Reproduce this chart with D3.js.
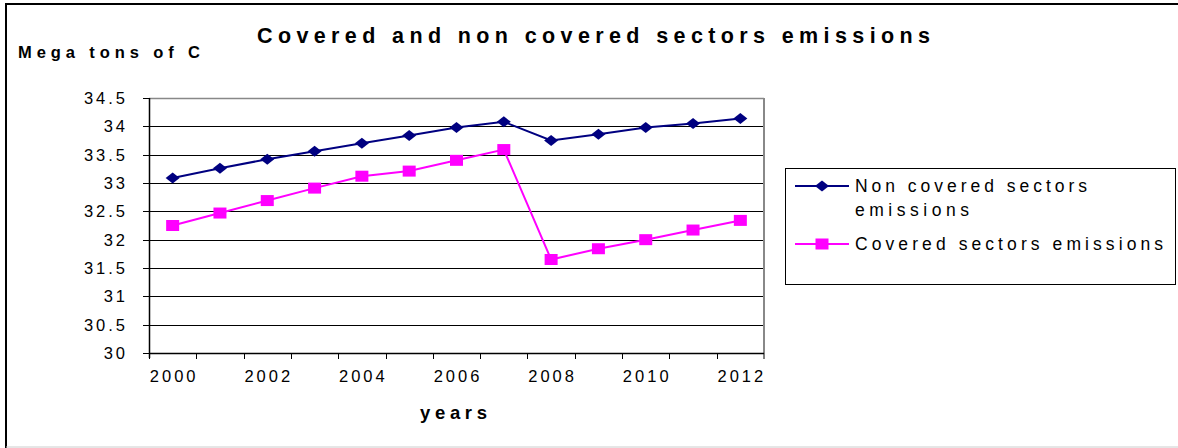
<!DOCTYPE html>
<html>
<head>
<meta charset="utf-8">
<script src="https://cdnjs.cloudflare.com/ajax/libs/d3/7.8.5/d3.min.js"></script>
<style>
  body { margin: 0; background: #fff; }
  svg { display: block; font-family: "Liberation Sans", Arial, sans-serif; }
</style>
</head>
<body>
<svg id="chart" width="1178" height="448"></svg>
<script>
var years = [2000, 2001, 2002, 2003, 2004, 2005, 2006, 2007, 2008, 2009, 2010, 2011, 2012];
var nonCovered = [33.09, 33.26, 33.42, 33.56, 33.70, 33.84, 33.98, 34.08, 33.75, 33.86, 33.98, 34.05, 34.14];
var covered = [32.25, 32.47, 32.69, 32.91, 33.12, 33.21, 33.40, 33.59, 31.65, 31.84, 32.00, 32.17, 32.34];
var yTicks = [30, 30.5, 31, 31.5, 32, 32.5, 33, 33.5, 34, 34.5];
var xLabels = [2000, 2002, 2004, 2006, 2008, 2010, 2012];

!(function (d3) {
  var svg = d3.select("#chart"),
    pl = 149, pr = 764, pt = 98, pb = 353;

  var x = d3.scaleBand().domain(years).range([pl, pr]);
  var y = d3.scaleLinear().domain([30, 34.5]).range([pb, pt]);

  // outer frame
  svg.append("line").attr("x1", 6).attr("x2", 6).attr("y1", 4).attr("y2", 448)
    .attr("stroke", "#000").attr("stroke-width", 2);
  svg.append("line").attr("x1", 5).attr("x2", 1178).attr("y1", 4).attr("y2", 4)
    .attr("stroke", "#000").attr("stroke-width", 2);
  svg.append("line").attr("x1", 6).attr("x2", 1178).attr("y1", 447).attr("y2", 447)
    .attr("stroke", "#ccc").attr("stroke-width", 1);

  // gridlines
  svg.append("g").selectAll("line")
    .data(yTicks.filter(function (d) { return d > 30 && d < 34.5; }))
    .enter().append("line")
    .attr("x1", pl).attr("x2", pr)
    .attr("y1", function (d) { return Math.round(y(d)) + 0.5; })
    .attr("y2", function (d) { return Math.round(y(d)) + 0.5; })
    .attr("stroke", "#000").attr("stroke-width", 1);

  // plot border top/right (grey)
  svg.append("line").attr("x1", pl).attr("x2", pr).attr("y1", pt + 0.5).attr("y2", pt + 0.5)
    .attr("stroke", "#888").attr("stroke-width", 1.5);
  svg.append("line").attr("x1", pr).attr("x2", pr).attr("y1", pt).attr("y2", pb)
    .attr("stroke", "#888").attr("stroke-width", 2);

  // y axis
  var yAxis = svg.append("g");
  yAxis.append("line").attr("x1", pl + 0.5).attr("x2", pl + 0.5).attr("y1", pt).attr("y2", pb + 5)
    .attr("stroke", "#000").attr("stroke-width", 1.5);
  yAxis.selectAll("line.tick").data(yTicks).enter().append("line")
    .attr("class", "tick")
    .attr("x1", pl - 6).attr("x2", pl)
    .attr("y1", function (d) { return Math.round(y(d)) + 0.5; })
    .attr("y2", function (d) { return Math.round(y(d)) + 0.5; })
    .attr("stroke", "#000");
  yAxis.selectAll("text").data(yTicks).enter().append("text")
    .attr("x", 128)
    .attr("y", function (d) { return y(d) + 6; })
    .attr("text-anchor", "end")
    .attr("font-size", 16.5)
    .attr("letter-spacing", 3)
    .text(function (d) { return d; });

  // x axis
  var xAxis = svg.append("g");
  xAxis.append("line").attr("x1", pl).attr("x2", pr).attr("y1", pb + 0.5).attr("y2", pb + 0.5)
    .attr("stroke", "#000").attr("stroke-width", 1.5);
  xAxis.selectAll("line.tick").data(years.concat(["end"])).enter().append("line")
    .attr("class", "tick")
    .attr("x1", function (d) { return d === "end" ? pr : Math.round(x(d)) + 0.5; })
    .attr("x2", function (d) { return d === "end" ? pr : Math.round(x(d)) + 0.5; })
    .attr("y1", pb).attr("y2", pb + 6)
    .attr("stroke", "#000");
  xAxis.selectAll("text").data(xLabels).enter().append("text")
    .attr("x", function (d) { return x(d) + x.bandwidth() / 2 + 1.5; })
    .attr("y", 382)
    .attr("text-anchor", "middle")
    .attr("font-size", 16.5)
    .attr("letter-spacing", 3)
    .text(function (d) { return d; });

  // titles
  svg.append("text").attr("x", 257).attr("y", 43)
    .attr("font-size", 21.5).attr("font-weight", "bold")
    .attr("textLength", 673).attr("lengthAdjust", "spacing")
    .text("Covered and non covered sectors emissions");
  svg.append("text").attr("x", 18).attr("y", 58)
    .attr("font-size", 16.5).attr("font-weight", "bold")
    .attr("textLength", 182).attr("lengthAdjust", "spacing")
    .text("Mega tons of C");
  svg.append("text").attr("x", 420).attr("y", 419)
    .attr("font-size", 18.5).attr("font-weight", "bold")
    .attr("textLength", 67).attr("lengthAdjust", "spacing")
    .text("years");

  // lines
  var line = d3.line()
    .x(function (d, i) { return x(years[i]) + x.bandwidth() / 2; })
    .y(function (d) { return y(d); });

  svg.append("path").datum(nonCovered).attr("d", line)
    .attr("fill", "none").attr("stroke", "#000080").attr("stroke-width", 2);
  svg.append("path").datum(covered).attr("d", line)
    .attr("fill", "none").attr("stroke", "#ff00ff").attr("stroke-width", 2);

  function diamond(cx, cy) {
    return "M" + (cx - 7) + "," + cy + "L" + cx + "," + (cy - 5.5) + "L" + (cx + 7) + "," + cy + "L" + cx + "," + (cy + 5.5) + "Z";
  }

  svg.append("g").selectAll("path").data(nonCovered).enter().append("path")
    .attr("d", function (d, i) { return diamond(x(years[i]) + x.bandwidth() / 2, y(d)); })
    .attr("fill", "#000080");
  svg.append("g").selectAll("rect").data(covered).enter().append("rect")
    .attr("x", function (d, i) { return x(years[i]) + x.bandwidth() / 2 - 6.5; })
    .attr("y", function (d) { return y(d) - 5.5; })
    .attr("width", 13).attr("height", 11)
    .attr("fill", "#ff00ff");

  // legend
  var legend = svg.append("g");
  legend.append("rect").attr("x", 785.5).attr("y", 168.5).attr("width", 390).attr("height", 116)
    .attr("fill", "#fff").attr("stroke", "#000").attr("stroke-width", 1);
  legend.append("line").attr("x1", 795).attr("x2", 849).attr("y1", 186).attr("y2", 186)
    .attr("stroke", "#000080").attr("stroke-width", 2);
  legend.append("path").attr("d", diamond(822, 186)).attr("fill", "#000080");
  legend.append("line").attr("x1", 795).attr("x2", 849).attr("y1", 244).attr("y2", 244)
    .attr("stroke", "#ff00ff").attr("stroke-width", 2);
  legend.append("rect").attr("x", 815.5).attr("y", 238.5).attr("width", 13).attr("height", 11).attr("fill", "#ff00ff");

  legend.append("text").attr("x", 855).attr("y", 192).attr("font-size", 17.5)
    .attr("textLength", 232).attr("lengthAdjust", "spacing").text("Non covered sectors");
  legend.append("text").attr("x", 855).attr("y", 216).attr("font-size", 17.5)
    .attr("textLength", 114).attr("lengthAdjust", "spacing").text("emissions");
  legend.append("text").attr("x", 855).attr("y", 250).attr("font-size", 17.5)
    .attr("textLength", 308).attr("lengthAdjust", "spacing").text("Covered sectors emissions");
})(d3);
</script>
</body>
</html>
